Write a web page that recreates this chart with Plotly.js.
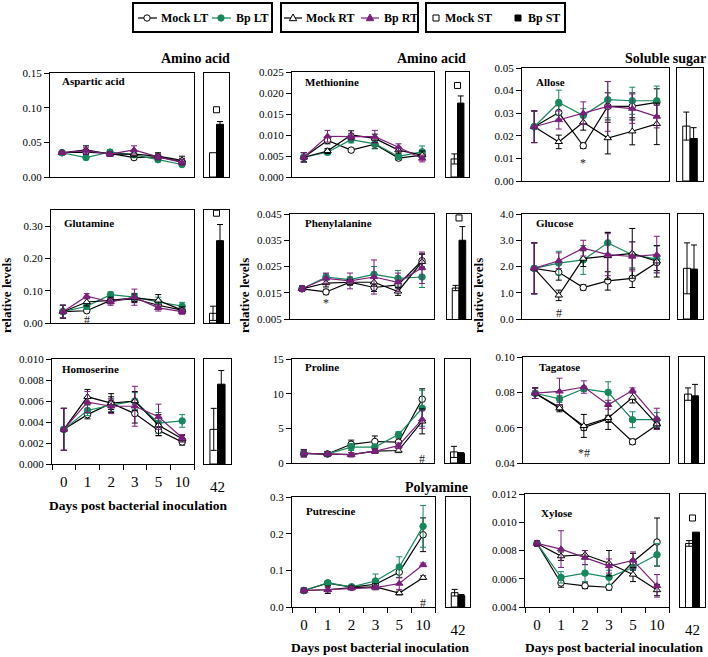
<!DOCTYPE html>
<html><head><meta charset="utf-8">
<script src="https://cdn.plot.ly/plotly-3.0.1.min.js"></script>
<style>body{margin:0;padding:0;background:#fff}#chart{width:708px;height:657px}</style>
</head><body><div id="chart"></div>
<script>
// ---------------- DATA ----------------
const days = ['0','1','2','3','5','10'];
const seriesNames = ['Mock LT','Bp LT','Mock RT','Bp RT'];
const barNames = ['Mock ST','Bp ST'];
const barLabel = ['42'];

// series order in each Mean/Err array: Mock LT, Bp LT, Mock RT, Bp RT
const asparticMean = [
  [0.035,0.036,0.034,0.028,0.029,0.022],
  [0.035,0.028,0.036,0.032,0.025,0.018],
  [0.035,0.039,0.033,0.033,0.030,0.024],
  [0.035,0.038,0.033,0.039,0.029,0.021]];
const asparticErr = [
  [0.002,0.004,0.003,0.003,0.004,0.005],
  [0.002,0.003,0.003,0.003,0.003,0.003],
  [0.002,0.006,0.003,0.004,0.005,0.006],
  [0.002,0.005,0.003,0.006,0.004,0.004]];
const asparticST = [0.035, 0.076];
const asparticSTErr = [0.000, 0.004];
const asparticMark = [0.097];
const asparticSig = [];

const glutamineMean = [
  [0.035,0.038,0.070,0.075,0.055,0.040],
  [0.035,0.052,0.088,0.080,0.065,0.052],
  [0.035,0.065,0.070,0.078,0.070,0.040],
  [0.035,0.083,0.065,0.080,0.047,0.035]];
const glutamineErr = [
  [0.020,0.006,0.010,0.012,0.012,0.010],
  [0.020,0.010,0.008,0.012,0.015,0.012],
  [0.020,0.012,0.010,0.012,0.018,0.010],
  [0.020,0.008,0.010,0.025,0.010,0.008]];
const glutamineST = [0.030, 0.255];
const glutamineSTErr = [0.022, 0.050];
const glutamineMark = [0.340];
const glutamineSig = [['1', 0.010, '#']];

const homoserineMean = [
  [0.0033,0.0047,0.0058,0.0048,0.0032,0.0021],
  [0.0033,0.0051,0.0056,0.0060,0.0039,0.0041],
  [0.0033,0.0064,0.0058,0.0060,0.0037,0.0024],
  [0.0033,0.0059,0.0055,0.0055,0.0045,0.0025]];
const homoserineErr = [
  [0.0020,0.0004,0.0006,0.0009,0.0005,0.0003],
  [0.0020,0.0005,0.0006,0.0008,0.0010,0.0006],
  [0.0020,0.0007,0.0009,0.0009,0.0010,0.0003],
  [0.0020,0.0010,0.0007,0.0019,0.0012,0.0003]];
const homoserineST = [0.0033, 0.0076];
const homoserineSTErr = [0.0020, 0.0013];
const homoserineMark = [];
const homoserineSig = [['10', 0.0006, '*']];

const methionineMean = [
  [0.0047,0.0087,0.0064,0.0078,0.0045,0.0052],
  [0.0047,0.0059,0.0089,0.0079,0.0049,0.0060],
  [0.0047,0.0062,0.0100,0.0092,0.0064,0.0052],
  [0.0047,0.0097,0.0096,0.0096,0.0071,0.0044]];
const methionineErr = [
  [0.0011,0.0008,0.0004,0.0010,0.0005,0.0008],
  [0.0011,0.0006,0.0008,0.0012,0.0006,0.0014],
  [0.0011,0.0006,0.0010,0.0010,0.0007,0.0010],
  [0.0011,0.0014,0.0008,0.0015,0.0008,0.0008]];
const methionineST = [0.0043, 0.0176];
const methionineSTErr = [0.0012, 0.0017];
const methionineMark = [0.0218];
const methionineSig = [];

const phenylalanineMean = [
  [0.0165,0.0153,0.0190,0.0170,0.0180,0.0272],
  [0.0165,0.0210,0.0200,0.0220,0.0205,0.0210],
  [0.0165,0.0187,0.0190,0.0190,0.0155,0.0268],
  [0.0165,0.0205,0.0195,0.0210,0.0190,0.0245]];
const phenylalanineErr = [
  [0.0010,0.0010,0.0010,0.0015,0.0012,0.0025],
  [0.0010,0.0012,0.0010,0.0030,0.0030,0.0040],
  [0.0010,0.0015,0.0010,0.0015,0.0015,0.0030],
  [0.0010,0.0020,0.0030,0.0065,0.0035,0.0060]];
const phenylalanineST = [0.0168, 0.0350];
const phenylalanineSTErr = [0.0010, 0.0052];
const phenylalanineMark = [0.0435];
const phenylalanineSig = [['1', 0.0112, '*']];

const prolineMean = [
  [1.4,1.3,2.7,3.1,3.0,9.2],
  [1.4,1.3,2.3,2.3,4.1,7.9],
  [1.4,1.3,1.2,1.7,1.8,6.0],
  [1.4,1.3,1.2,1.7,2.5,6.3]];
const prolineErr = [
  [0.5,0.3,0.6,0.8,0.6,1.5],
  [0.5,0.3,0.5,0.4,0.4,2.6],
  [0.5,0.3,0.3,0.3,0.3,1.8],
  [0.5,0.3,0.3,0.3,0.4,1.3]];
const prolineST = [1.6, 1.4];
const prolineSTErr = [0.8, 0.1];
const prolineMark = [];
const prolineSig = [['5', 0.6, '#']];

const putrescineMean = [
  [0.045,0.065,0.054,0.062,0.095,0.197],
  [0.045,0.066,0.055,0.071,0.109,0.220],
  [0.045,0.047,0.053,0.055,0.038,0.080],
  [0.045,0.047,0.051,0.053,0.064,0.115]];
const putrescineErr = [
  [0.006,0.005,0.004,0.006,0.015,0.046],
  [0.006,0.006,0.004,0.019,0.028,0.057],
  [0.006,0.010,0.004,0.008,0.005,0.005],
  [0.006,0.006,0.004,0.005,0.016,0.005]];
const putrescineST = [0.039, 0.031];
const putrescineSTErr = [0.009, 0.003];
const putrescineMark = [];
const putrescineSig = [['5', 0.012, '#']];

const alloseMean = [
  [0.0240,0.0303,0.0156,0.0330,0.0330,0.0348],
  [0.0240,0.0347,0.0290,0.0360,0.0355,0.0355],
  [0.0240,0.0173,0.0260,0.0190,0.0220,0.0253],
  [0.0240,0.0270,0.0300,0.0330,0.0320,0.0285]];
const alloseErr = [
  [0.0070,0.0030,0.0012,0.0060,0.0060,0.0060],
  [0.0070,0.0055,0.0030,0.0080,0.0060,0.0065],
  [0.0070,0.0030,0.0035,0.0070,0.0060,0.0092],
  [0.0070,0.0040,0.0050,0.0110,0.0065,0.0050]];
const alloseST = [0.0243, 0.0188];
const alloseSTErr = [0.0062, 0.0048];
const alloseMark = [];
const alloseSig = [['2', 0.008, '*']];

const glucoseMean = [
  [1.93,1.78,1.20,1.45,1.55,2.15],
  [1.93,2.13,2.25,2.90,2.45,2.28],
  [1.93,0.90,2.30,2.40,2.50,2.20],
  [1.93,2.22,2.70,2.45,2.38,2.45]];
const glucoseErr = [
  [0.97,0.30,0.10,0.35,0.35,0.30],
  [0.97,0.45,0.55,0.40,0.50,0.50],
  [0.97,0.20,0.30,0.90,0.95,0.60],
  [0.97,0.30,0.30,0.80,0.55,0.70]];
const glucoseST = [1.93, 1.90];
const glucoseSTErr = [0.97, 0.92];
const glucoseMark = [];
const glucoseSig = [['1', 0.22, '#']];

const tagatoseMean = [
  [0.0795,0.0715,0.0600,0.0650,0.0520,0.0615],
  [0.0795,0.0763,0.0820,0.0800,0.0645,0.0645],
  [0.0795,0.0710,0.0610,0.0655,0.0770,0.0620],
  [0.0795,0.0805,0.0830,0.0730,0.0810,0.0650]];
const tagatoseErr = [
  [0.0030,0.0015,0.0015,0.0020,0.0015,0.0020],
  [0.0030,0.0020,0.0015,0.0060,0.0045,0.0040],
  [0.0030,0.0020,0.0065,0.0065,0.0030,0.0030],
  [0.0030,0.0075,0.0035,0.0025,0.0015,0.0060]];
const tagatoseST = [0.0790, 0.0780];
const tagatoseSTErr = [0.0035, 0.0065];
const tagatoseMark = [];
const tagatoseSig = [['2', 0.0458, '*#']];

const xyloseMean = [
  [0.0085,0.0057,0.0055,0.0054,0.0072,0.0086],
  [0.0085,0.0061,0.0064,0.0061,0.0068,0.0077],
  [0.0085,0.0076,0.0077,0.0071,0.0063,0.0052],
  [0.0085,0.0081,0.0075,0.0069,0.0073,0.0055]];
const xyloseErr = [
  [0.0002,0.0003,0.0002,0.0002,0.0006,0.0017],
  [0.0002,0.0004,0.0006,0.0005,0.0005,0.0008],
  [0.0002,0.0003,0.0003,0.0009,0.0005,0.0004],
  [0.0002,0.0013,0.0005,0.0005,0.0006,0.0008]];
const xyloseST = [0.0085, 0.0093];
const xyloseSTErr = [0.0002, 0.0000];
const xyloseMark = [0.0103];
const xyloseSig = [];

// ---------------- LAYOUT CONFIG ----------------
const W = 708, H = 657;
const FONT = 'Liberation Serif, Times New Roman, serif';
const GREEN = '#17875c';
const PURPLE = '#7b1f7a';

const panels = [
  {name:'Aspartic acid', mean:asparticMean, err:asparticErr, st:asparticST, stErr:asparticSTErr, mark:asparticMark, sig:asparticSig,
   box:[50,194,73,177], bar:[204,229], range:[0,0.15], dtick:0.05, tick0:0, fmt:'.2f', bottom:false, lab:[10,8]},
  {name:'Glutamine', mean:glutamineMean, err:glutamineErr, st:glutamineST, stErr:glutamineSTErr, mark:glutamineMark, sig:glutamineSig,
   box:[51,194,210,323], bar:[204,229], range:[0,0.35], dtick:0.1, tick0:0, fmt:'.2f', bottom:false, lab:[11,13]},
  {name:'Homoserine', mean:homoserineMean, err:homoserineErr, st:homoserineST, stErr:homoserineSTErr, mark:homoserineMark, sig:homoserineSig,
   box:[52,194,359,464], bar:[204,231], range:[0,0.010], dtick:0.002, tick0:0, fmt:'.3f', bottom:true, lab:[8,10]},
  {name:'Methionine', mean:methionineMean, err:methionineErr, st:methionineST, stErr:methionineSTErr, mark:methionineMark, sig:methionineSig,
   box:[292,434,72,177], bar:[446,469], range:[0,0.025], dtick:0.005, tick0:0, fmt:'.3f', bottom:false, lab:[11,10]},
  {name:'Phenylalanine', mean:phenylalanineMean, err:phenylalanineErr, st:phenylalanineST, stErr:phenylalanineSTErr, mark:phenylalanineMark, sig:phenylalanineSig,
   box:[290,434,214,319], bar:[447,471], range:[0.005,0.045], dtick:0.01, tick0:0.005, fmt:'.3f', bottom:false, lab:[13,9]},
  {name:'Proline', mean:prolineMean, err:prolineErr, st:prolineST, stErr:prolineSTErr, mark:prolineMark, sig:prolineSig,
   box:[292,434,359,463], bar:[445,470], range:[0,15], dtick:5, tick0:0, fmt:'d', bottom:false, lab:[11,8]},
  {name:'Putrescine', mean:putrescineMean, err:putrescineErr, st:putrescineST, stErr:putrescineSTErr, mark:putrescineMark, sig:putrescineSig,
   box:[292,435,497,607], bar:[446,470], range:[0,0.3], dtick:0.1, tick0:0, fmt:'.1f', bottom:true, lab:[12,14]},
  {name:'Allose', mean:alloseMean, err:alloseErr, st:alloseST, stErr:alloseSTErr, mark:alloseMark, sig:alloseSig,
   box:[522,669,68,181], bar:[677,703], range:[0,0.05], dtick:0.01, tick0:0, fmt:'.2f', bottom:false, lab:[12,14]},
  {name:'Glucose', mean:glucoseMean, err:glucoseErr, st:glucoseST, stErr:glucoseSTErr, mark:glucoseMark, sig:glucoseSig,
   box:[522,669,214,319], bar:[678,703], range:[0,4], dtick:1, tick0:0, fmt:'.1f', bottom:false, lab:[12,9]},
  {name:'Tagatose', mean:tagatoseMean, err:tagatoseErr, st:tagatoseST, stErr:tagatoseSTErr, mark:tagatoseMark, sig:tagatoseSig,
   box:[523,669,357,463], bar:[679,704], range:[0.04,0.10], dtick:0.02, tick0:0.04, fmt:'.2f', bottom:false, lab:[14,10]},
  {name:'Xylose', mean:xyloseMean, err:xyloseErr, st:xyloseST, stErr:xyloseSTErr, mark:xyloseMark, sig:xyloseSig,
   box:[525,669,494,607], bar:[680,705], range:[0.004,0.012], dtick:0.002, tick0:0.004, fmt:'.3f', bottom:true, lab:[14,19]}
];

const styles = [
  {color:'#000', symbol:'circle', fill:'#fff'},
  {color:GREEN, symbol:'circle', fill:GREEN},
  {color:'#000', symbol:'triangle-up', fill:'#fff'},
  {color:PURPLE, symbol:'triangle-up', fill:PURPLE}
];

const px = v => v / W;
const py = v => 1 - v / H;
const id = n => (n === 1 ? '' : String(n));

const traces = [];
const layout = {
  width: W, height: H,
  margin: {l:0, r:0, t:0, b:0},
  paper_bgcolor: '#fff', plot_bgcolor: '#fff',
  font: {family: FONT, color: '#000', size: 11},
  showlegend: false,
  barmode: 'group', bargap: 0.44, bargroupgap: 0,
  annotations: [], shapes: []
};

panels.forEach((p, i) => {
  const a = 2 * i + 1, b = 2 * i + 2;
  const [L, R, T, B] = p.box;
  const dom = [py(B), py(T)];
  layout['xaxis' + id(a)] = {
    domain: [px(L), px(R)], anchor: 'y' + id(a), type: 'category',
    categoryorder: 'array', categoryarray: days, range: [-0.5, days.length - 0.5],
    showline: true, mirror: true, linecolor: '#000', linewidth: 1,
    showgrid: false, zeroline: false, fixedrange: true, tickangle: 0,
    tickson: 'boundaries', ticks: p.bottom ? 'outside' : '', ticklen: 5, tickcolor: '#000',
    ticklabelstandoff: 4,
    showticklabels: p.bottom, tickfont: {family: FONT, size: 15, color: '#000'}
  };
  layout['yaxis' + id(a)] = {
    domain: dom, anchor: 'x' + id(a), range: p.range,
    tick0: p.tick0, dtick: p.dtick, tickformat: p.fmt,
    showline: true, mirror: true, linecolor: '#000', linewidth: 1,
    showgrid: false, zeroline: false, ticks: 'outside', ticklen: 5, tickcolor: '#000',
    tickfont: {family: FONT, size: 11, color: '#000'}
  };
  layout['xaxis' + id(b)] = {
    domain: [px(p.bar[0]), px(p.bar[1])], anchor: 'y' + id(b), type: 'category',
    range: [-0.5, 0.5], showline: true, mirror: true, linecolor: '#000', linewidth: 1,
    showgrid: false, zeroline: false, ticks: p.bottom ? 'outside' : '', ticklen: 9, tickangle: 0,
    tickcolor: 'rgba(0,0,0,0)', showticklabels: p.bottom,
    tickfont: {family: FONT, size: 15, color: '#000'}
  };
  layout['yaxis' + id(b)] = {
    domain: dom, anchor: 'x' + id(b), range: p.range,
    showline: true, mirror: true, linecolor: '#000', linewidth: 1,
    showgrid: false, zeroline: false, showticklabels: false, ticks: ''
  };

  p.mean.forEach((vals, k) => {
    const s = styles[k];
    traces.push({
      type: 'scatter', mode: 'lines+markers', x: days, y: vals,
      name: seriesNames[k], showlegend: false,
      xaxis: 'x' + id(a), yaxis: 'y' + id(a), cliponaxis: false,
      line: {color: s.color, width: 1.2},
      marker: {symbol: s.symbol, size: 6.5, color: s.fill, line: {color: s.color, width: 1}},
      error_y: {type: 'data', array: p.err[k], visible: true, color: s.color, thickness: 1, width: 3}
    });
  });

  const barFill = ['#fff', '#000'];
  p.st.forEach((v, k) => {
    traces.push({
      type: 'bar', x: barLabel, y: [v], name: barNames[k], showlegend: false,
      xaxis: 'x' + id(b), yaxis: 'y' + id(b),
      marker: {color: barFill[k], line: {color: '#000', width: 1}},
      error_y: {type: 'data', array: [p.stErr[k]], visible: p.stErr[k] > 0, color: '#000', thickness: 1, width: 3}
    });
  });
  if (p.mark.length) {
    traces.push({
      type: 'scatter', mode: 'markers', x: barLabel, y: p.mark, showlegend: false,
      xaxis: 'x' + id(b), yaxis: 'y' + id(b), cliponaxis: false,
      marker: {symbol: 'square-open', size: 6, color: '#000', line: {width: 1}}
    });
  }

  layout.annotations.push({
    text: '<b>' + p.name + '</b>', xref: 'x' + id(a) + ' domain', yref: 'y' + id(a) + ' domain',
    x: 0, y: 1, xshift: p.lab[0], yshift: -p.lab[1], xanchor: 'left', yanchor: 'middle',
    showarrow: false, font: {family: FONT, size: 11, color: '#000'}
  });
  p.sig.forEach(s => {
    layout.annotations.push({
      text: s[2], xref: 'x' + id(a), yref: 'y' + id(a), x: s[0], y: s[1],
      showarrow: false, font: {family: FONT, size: 12, color: '#222'}, yanchor: 'middle'
    });
  });
});

// headings
const headings = [
  ['Amino acid', 232, 58], ['Amino acid', 468, 58], ['Soluble sugar', 708, 58], ['Polyamine', 470, 487]
];
headings.forEach(h => layout.annotations.push({
  text: '<b>' + h[0] + '</b>', xref: 'paper', yref: 'paper', x: px(h[1]), y: py(h[2]),
  xanchor: 'right', yanchor: 'middle', showarrow: false, font: {family: FONT, size: 14, color: '#000'}
}));
const xTitles = [[138, 505], [380, 647], [614, 647]];
xTitles.forEach(t => layout.annotations.push({
  text: '<b>Days post bacterial inoculation</b>', xref: 'paper', yref: 'paper', x: px(t[0]), y: py(t[1]),
  xanchor: 'center', yanchor: 'middle', showarrow: false, font: {family: FONT, size: 13.5, color: '#000'}
}));
const yTitles = [[6, 296], [244, 296], [478, 296]];
yTitles.forEach(t => layout.annotations.push({
  text: '<b>relative levels</b>', xref: 'paper', yref: 'paper', x: px(t[0]), y: py(t[1]),
  xanchor: 'center', yanchor: 'middle', textangle: -90, showarrow: false,
  font: {family: FONT, size: 13, color: '#000'}
}));

// ---------------- KEY (drawn as layout decoration) ----------------
const keyBoxes = [[133, 272], [281, 418], [426, 565]];
const keyTop = 3, keyBottom = 32, keyMid = 18;
const keyLines = [
  [seriesNames[0], 0, 138, 157, 147, 159],
  [seriesNames[1], 1, 212, 231, 221, 234],
  [seriesNames[2], 2, 284, 302, 293, 304],
  [seriesNames[3], 3, 361, 379, 370, 382]
];
const keyBars = [
  [barNames[0], '#fff', 436, 443],
  [barNames[1], '#000', 518, 526]
];
keyBoxes.forEach(b => layout.shapes.push({
  type: 'rect', xref: 'paper', yref: 'paper', x0: px(b[0]), x1: px(b[1]), y0: py(keyBottom), y1: py(keyTop),
  line: {color: '#000', width: 2}, fillcolor: '#fff', layer: 'above'
}));
keyLines.forEach(k => {
  const s = styles[k[1]];
  layout.shapes.push({type: 'line', xref: 'paper', yref: 'paper', x0: px(k[2]), x1: px(k[3]),
    y0: py(keyMid), y1: py(keyMid), line: {color: s.color, width: 1.2}, layer: 'above'});
  const c = k[4], r = 3.2;
  if (s.symbol === 'circle') {
    layout.shapes.push({type: 'circle', xref: 'paper', yref: 'paper', x0: px(c - r), x1: px(c + r),
      y0: py(keyMid + r), y1: py(keyMid - r), line: {color: s.color, width: 1}, fillcolor: s.fill, layer: 'above'});
  } else {
    const path = 'M' + px(c - r - 0.5) + ',' + py(keyMid + r - 0.5) + ' L' + px(c + r + 0.5) + ',' + py(keyMid + r - 0.5) +
      ' L' + px(c) + ',' + py(keyMid - r - 0.8) + ' Z';
    layout.shapes.push({type: 'path', xref: 'paper', yref: 'paper', path: path,
      line: {color: s.color, width: 1}, fillcolor: s.fill, layer: 'above'});
  }
  layout.annotations.push({text: '<b>' + k[0] + '</b>', xref: 'paper', yref: 'paper', x: px(k[5]), y: py(keyMid),
    xanchor: 'left', yanchor: 'middle', showarrow: false, font: {family: FONT, size: 12, color: '#000'}});
});
keyBars.forEach(k => {
  const c = k[2], r = 3;
  layout.shapes.push({type: 'rect', xref: 'paper', yref: 'paper', x0: px(c - r), x1: px(c + r),
    y0: py(keyMid + r), y1: py(keyMid - r), line: {color: '#000', width: 1}, fillcolor: k[1], layer: 'above'});
  layout.annotations.push({text: '<b>' + k[0] + '</b>', xref: 'paper', yref: 'paper', x: px(k[3]), y: py(keyMid),
    xanchor: 'left', yanchor: 'middle', showarrow: false, font: {family: FONT, size: 12, color: '#000'}});
});

Plotly.newPlot('chart', traces, layout, {staticPlot: true, displayModeBar: false});
</script>
</body></html>
